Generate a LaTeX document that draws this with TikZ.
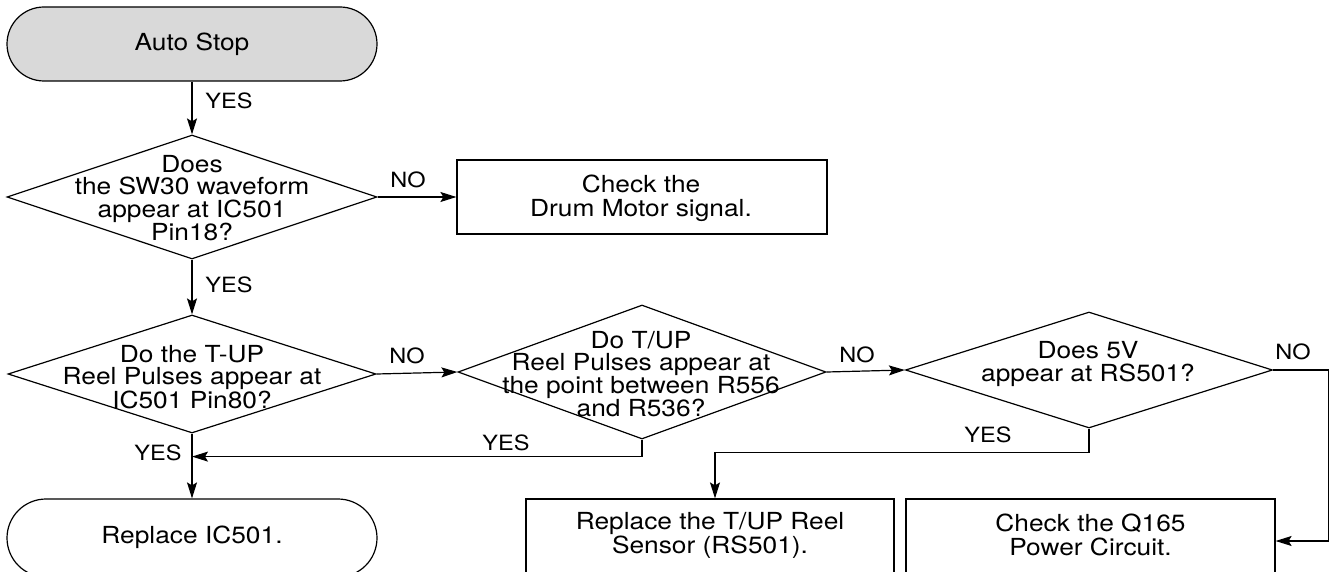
\documentclass[tikz,border=0pt]{standalone}
\usepackage{fontspec}
\setmainfont{TeX Gyre Heros}[FakeStretch=1.12]
\usetikzlibrary{shapes.geometric,shapes.misc,arrows.meta}

\begin{document}
\begin{tikzpicture}[x=1pt,y=-1pt,line width=1.2pt,
  arr/.style={-{Stealth[length=16pt,width=10pt,inset=3pt]}},
  term/.style={rounded rectangle,draw,minimum width=370pt,inner sep=0pt},
  dia/.style={diamond,draw,inner sep=0pt},
  boxnode/.style={rectangle,draw,inner sep=0pt},
  txt/.style={align=center,inner sep=0pt,font=\fontsize{23.5}{22.5}\selectfont},
  btxt/.style={align=center,inner sep=0pt,font=\fontsize{23.5}{24}\selectfont},
  lbl/.style={inner sep=0pt,font=\fontsize{21}{21}\selectfont}]

\useasboundingbox (0,0) rectangle (1333,572);
\clip (0,0) rectangle (1333,572);

% terminals
\node[term,fill=gray!30,minimum height=74pt] (start) at (192,44) {};
\node[btxt] (startt) at (192,44) {Auto Stop};
\node[term,minimum height=78pt] (r1) at (192,538) {};
\node[btxt] (r1t) at (192,537) {Replace IC501.};

% decisions
\node[dia,minimum width=370pt,minimum height=124pt] (d1) at (192,197) {};
\node[txt] (d1t) at (192,198) {Does\\the SW30 waveform\\appear at IC501\\Pin18?};

\node[dia,minimum width=368pt,minimum height=118pt] (d2) at (192,374) {};
\node[txt] (d2t) at (192,377) {Do the T-UP\\Reel Pulses appear at\\IC501 Pin80?};

\node[dia,minimum width=368pt,minimum height=134pt] (d3) at (642,372) {};
\node[txt] (d3t) at (641,374) {Do T/UP\\Reel Pulses appear at\\the point between R556\\and R536?};

\node[dia,minimum width=367pt,minimum height=116pt] (d4) at (1089,370) {};
\node[txt] (d4t) at (1088,364) {Does 5V\\appear at RS501?};

% process boxes
\node[boxnode,minimum width=370pt,minimum height=74pt] (drum) at (642,197) {};
\node[btxt] (drumt) at (641,198) {Check the\\Drum Motor signal.};

\node[boxnode,minimum width=368pt,minimum height=84pt] (b1) at (710,541) {};
\node[btxt] (b1t) at (710,535) {Replace the T/UP Reel\\Sensor (RS501).};

\node[boxnode,minimum width=369pt,minimum height=84pt] (b2) at (1090.5,541) {};
\node[btxt] (b2t) at (1090.5,535) {Check the Q165\\Power Circuit.};

% connectors
\draw[arr] (start.south) -- (d1.north);
\draw[arr] (d1.east) -- (drum.west);
\draw[arr] (d1.south) -- (d2.north);
\draw[arr] (d2.east) -- (d3.west);
\draw[arr] (d3.east) -- (d4.west);
\draw[arr] (d2.south) -- (r1.north);
\draw[arr] (d3.south) -- ++(0,17) coordinate (c3) -- (c3 -| d2.south);
\draw[arr] (d4.south) -- ++(0,24) -| ([xshift=5pt]b1.north);
\draw[arr] (d4.east) -- ++(55,0) |- (b2.east);

% branch labels
\node[lbl] (l1) at (229,101) {YES};
\node[lbl] (l2) at (408,180) {NO};
\node[lbl] (l3) at (229,285) {YES};
\node[lbl] (l4) at (407,356) {NO};
\node[lbl] (l5) at (857,355) {NO};
\node[lbl] (l6) at (1293,352) {NO};
\node[lbl] (l7) at (988,435) {YES};
\node[lbl] (l8) at (506,443) {YES};
\node[lbl] (l9) at (158,453) {YES};
\end{tikzpicture}
\end{document}
